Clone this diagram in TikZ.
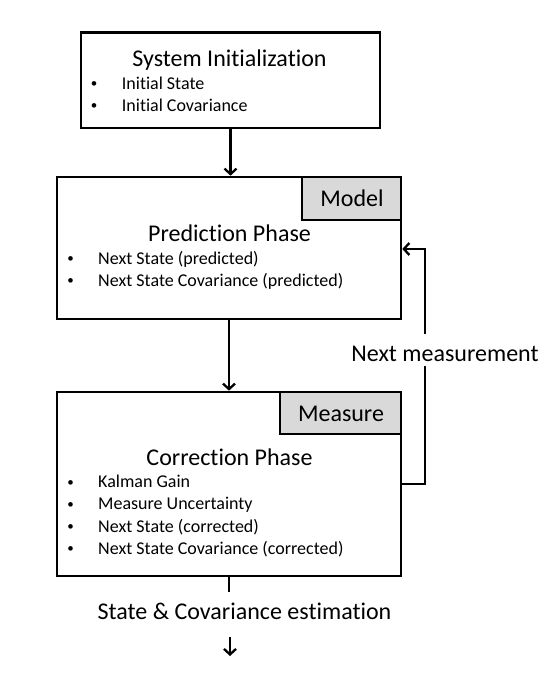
\documentclass[tikz,border=0pt]{standalone}
\usepackage{fontspec}
\setmainfont{Carlito}[Ligatures=NoCommon]
\usetikzlibrary{arrows.meta}

\tikzset{
  box/.style={draw, line width=2.6pt, fill=white, inner sep=0pt},
  tab/.style={draw, line width=2.6pt, fill=black!15, inner sep=0pt},
  big/.style={font=\fontsize{24}{28}\selectfont, inner sep=0pt, anchor=base},
  small/.style={font=\fontsize{18}{22}\selectfont, inner sep=0pt, anchor=base west},
  dot/.style={font=\fontsize{13}{16}\selectfont, inner sep=0pt, anchor=base},
  arr/.style={line width=2.3pt, -{Straight Barb[length=5.5pt,width=12pt]}},
  wire/.style={line width=2.3pt},
}

\begin{document}
\begin{tikzpicture}[x=1pt,y=-1pt]
\useasboundingbox (0,0) rectangle (554,676);
% the three phases
\node[box, minimum width=299pt, minimum height=95.5pt] (init) at (230.5,80.25) {};
\node[box, minimum width=344pt, minimum height=142pt] (pred) at (229,248) {};
\node[tab, minimum width=99pt, minimum height=43pt] (model) at (351.5,198.5) {};
\node[box, minimum width=344pt, minimum height=184pt] (corr) at (229,484) {};
\node[tab, minimum width=121pt, minimum height=42pt] (measure) at (340.5,413) {};
% titles
\node[big] (inittitle) at (229.5,66.5) {System Initialization};
\node[big] (modeltext) at (352,207) {Model};
\node[big] (predtitle) at (229.5,241.5) {Prediction Phase};
\node[big] (measuretext) at (341,421) {Measure};
\node[big] (corrtitle) at (229.5,465) {Correction Phase};
% bullet lists
\foreach \yy/\txt in {89.5/Initial State, 111.5/Initial Covariance}{
  \node[dot] at (94,\yy-1.5) {•};
  \node[small] at (121.7,\yy) {\txt};
}
\foreach \yy/\txt in {264/Next State (predicted), 286/Next State Covariance\ (predicted)}{
  \node[dot] at (70.5,\yy-1.5) {•};
  \node[small] at (98,\yy) {\txt};
}
\foreach \yy/\txt in {487.5/Kalman Gain, 509.8/Measure Uncertainty, 532/Next State (corrected), 554.3/Next State Covariance\ (corrected)}{
  \node[dot] at (70.5,\yy-1.5) {•};
  \node[small] at (98,\yy) {\txt};
}
% connectors
\coordinate (fb) at (425,249);
\coordinate (outtop) at (230,592);
\coordinate (outa) at (230,637);
\coordinate (outb) at (230,656);
\draw[arr] (init.south) -- (init.south |- pred.north);
\draw[arr] (pred.south) -- (pred.south |- corr.north);
\draw[arr] (corr.east) -- (corr.east -| fb) -- (fb) -- (pred.east |- fb);
\node[font=\fontsize{24}{28}\selectfont, fill=white, inner xsep=2pt, inner ysep=0pt,
  minimum height=32pt, text height=22pt, text depth=0pt] (nextmeas) at (445,350) {Next measurement};
\draw[wire] (corr.south) -- (corr.south |- outtop);
\node[big] (estimate) at (244.5,619) {State \& Covariance estimation};
\draw[arr] (outa) -- (outb);
\end{tikzpicture}
\end{document}
